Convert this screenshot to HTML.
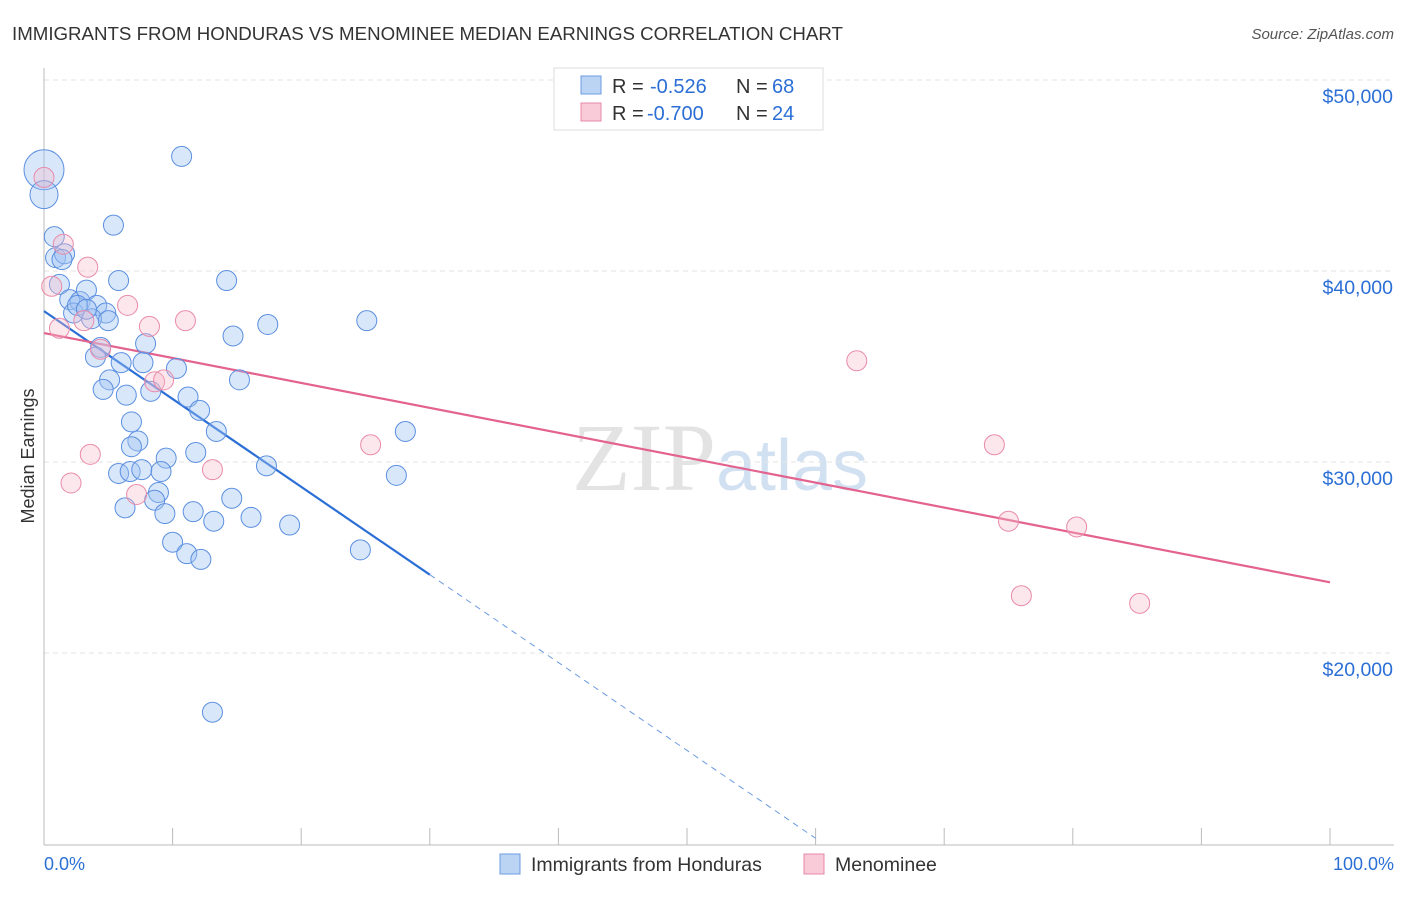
<!DOCTYPE html>
<html><head><meta charset="utf-8"><style>
body{margin:0;background:#fff;font-family:"Liberation Sans",sans-serif;}
</style></head><body>
<svg id="chart" width="1406" height="892" xmlns="http://www.w3.org/2000/svg" font-family="Liberation Sans, sans-serif">
<text x="12" y="40" font-size="18.7" fill="#333">IMMIGRANTS FROM HONDURAS VS MENOMINEE MEDIAN EARNINGS CORRELATION CHART</text>
<text x="1394" y="39" font-size="15" fill="#555" text-anchor="end" font-style="italic">Source: ZipAtlas.com</text>
<text x="720" y="490" font-size="96" text-anchor="middle" fill="#ddd" font-family="Liberation Serif, serif" opacity="0.8">ZIP<tspan fill="#c8daf0" font-family="Liberation Sans, sans-serif" font-size="72">atlas</tspan></text>
<text transform="translate(34,456) rotate(-90)" font-size="18" fill="#333" text-anchor="middle">Median Earnings</text>
<g id="grid"></g><g id="axes"></g><g id="trend"></g><g id="pts"></g>
<g>
<rect x="554" y="68" width="269" height="62" fill="#fff" stroke="#ddd"/>
<rect x="581" y="76" width="20" height="18" fill="#bcd4f4" stroke="#6b9be0"/>
<text x="612" y="93" font-size="20" fill="#333">R =</text>
<text x="650" y="93" font-size="20" fill="#2b6fd6">-0.526</text>
<text x="736" y="93" font-size="20" fill="#333">N =</text>
<text x="772" y="93" font-size="20" fill="#2b6fd6">68</text>
<rect x="581" y="103" width="20" height="18" fill="#f9cad8" stroke="#e88aa8"/>
<text x="612" y="120" font-size="20" fill="#333">R =</text>
<text x="647" y="120" font-size="20" fill="#2b6fd6">-0.700</text>
<text x="736" y="120" font-size="20" fill="#333">N =</text>
<text x="772" y="120" font-size="20" fill="#2b6fd6">24</text>
</g>
<g>
<rect x="500" y="854" width="20" height="20" fill="#bcd4f4" stroke="#6b9be0"/>
<text x="531" y="871" font-size="19.5" fill="#333">Immigrants from Honduras</text>
<rect x="804" y="854" width="20" height="20" fill="#f9cad8" stroke="#e88aa8"/>
<text x="835" y="871" font-size="19.5" fill="#333">Menominee</text>
</g>
<text x="44" y="870" font-size="18" fill="#2b6fd6">0.0%</text>
<text x="1394" y="870" font-size="18" fill="#2b6fd6" text-anchor="end">100.0%</text>
</svg>
<script>
const yTicks=[50000,40000,30000,20000];
const yTickLabels=["$50,000","$40,000","$30,000","$20,000"];
const blueX=[0,0,0.8,5.4,10.7,0.9,1.6,1.4,1.2,5.8,14.2,2.0,2.8,3.3,4.1,4.8,2.3,3.7,5.0,2.6,3.3,17.4,25.1,14.7,4.4,7.9,4.0,6.0,7.7,10.3,5.1,15.2,4.6,6.4,8.3,11.2,12.1,6.8,13.4,28.1,7.3,6.8,9.5,11.8,17.3,5.8,6.7,7.6,9.1,27.4,8.9,8.6,14.6,6.3,9.4,11.6,16.1,13.2,19.1,24.6,10.0,11.1,12.2,13.1];
const blueY=[45300,44000,41800,42400,46000,40700,40900,40600,39300,39500,39500,38500,38400,39000,38200,37800,37800,37500,37400,38200,38000,37200,37400,36600,36000,36200,35500,35200,35200,34900,34300,34300,33800,33500,33700,33400,32700,32100,31600,31600,31100,30800,30200,30500,29800,29400,29500,29600,29500,29300,28400,28000,28100,27600,27300,27400,27100,26900,26700,25400,25800,25200,24900,16900];
const blueSize=[20,14,10,10,10,10,10,10,10,10,10,10,10,10,10,10,10,10,10,10,10,10,10,10,10,10,10,10,10,10,10,10,10,10,10,10,10,10,10,10,10,10,10,10,10,10,10,10,10,10,10,10,10,10,10,10,10,10,10,10,10,10,10,10];
const pinkX=[0,1.5,0.6,3.4,6.5,1.2,3.1,8.2,11.0,4.4,8.6,9.3,63.2,25.4,3.6,13.1,2.1,7.2,73.9,75.0,80.3,76.0,85.2];
const pinkY=[44900,41400,39200,40200,38200,37000,37400,37100,37400,35900,34200,34300,35300,30900,30400,29600,28900,28300,30900,26900,26600,23000,22600];
const blueTrend=[[0,37900],[30,24100]];
const blueDash=[[30,24100],[60,10300]];
const pinkTrend=[[0,36750],[100,23700]];
const X=p=>44+p*12.86, Y=v=>80+(50000-v)/10000*191;
const NS="http://www.w3.org/2000/svg";
function mk(tag,attrs,parent){const e=document.createElementNS(NS,tag);for(const k in attrs)e.setAttribute(k,attrs[k]);document.getElementById(parent).appendChild(e);return e;}
yTicks.forEach((v,i)=>{
 const l=mk('line',{x1:44,x2:1394,y1:Y(v),y2:Y(v),stroke:'#e3e3e3','stroke-dasharray':'5,4'},'grid');
 
 
 const t=mk('text',{x:1393,y:Y(v)+23,'font-size':19.5,fill:'#2b6fd6','text-anchor':'end'},'grid');
 t.textContent=yTickLabels[i];
 
 
});
const ax=mk('line',{x1:44,x2:44,y1:68,y2:845,stroke:'#bbb'},'axes');


const bx=mk('line',{x1:44,x2:1394,y1:845,y2:845,stroke:'#bbb'},'axes');


for(let i=0;i<=10;i++){const t=mk('line',{x1:X(i*10),x2:X(i*10),y1:828,y2:845,stroke:'#bbb'},'axes');
 
 }
blueX.forEach((x,i)=>{const c=mk('circle',{cx:X(x),cy:Y(blueY[i]),r:blueSize[i],fill:'rgba(160,196,242,0.4)',stroke:'#5b8fe0','stroke-width':1},'pts');
 
 });
pinkX.forEach((x,i)=>{const c=mk('circle',{cx:X(x),cy:Y(pinkY[i]),r:10,fill:'rgba(246,185,204,0.35)',stroke:'#e98aa9','stroke-width':1},'pts');
 
 });
function tl(d,col,w,dash,name){const l=mk('line',{x1:X(d[0][0]),y1:Y(d[0][1]),x2:X(d[1][0]),y2:Y(d[1][1]),stroke:col,'stroke-width':w},'trend');
 if(dash)l.setAttribute('stroke-dasharray',dash);
 
 }
tl(blueTrend,'#2b6fd6',2.2,null,'honduras-trend-line');
tl(blueDash,'#6b9be0',1,'6,5','honduras-trend-extension');
tl(pinkTrend,'#e3628e',2.2,null,'menominee-trend-line');
</script>
</body></html>
